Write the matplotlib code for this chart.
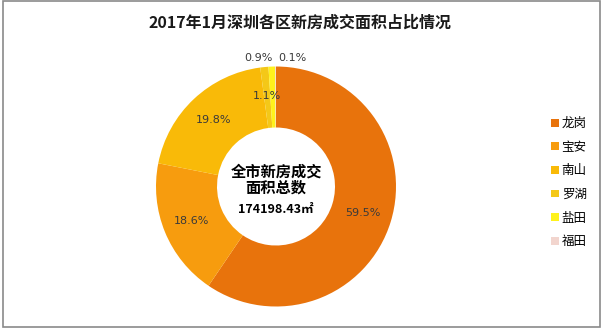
import matplotlib
matplotlib.use("Agg")
import matplotlib.pyplot as plt
import numpy as np

plt.rcParams['font.family'] = ['Noto Sans CJK SC', 'DejaVu Sans']

categories = ['龙岗', '宝安', '南山', '罗湖', '盐田', '福田']
shares = [59.5, 18.6, 19.8, 1.1, 0.9, 0.1]
colors = ['#E8730C', '#F79C0E', '#F9BA08', '#F4C818', '#FFF21C', '#F2D5CE']
title = '2017年1月深圳各区新房成交面积占比情况'
center_lines = ['全市新房成交', '面积总数']
total_text = '174198.43㎡'

W, H = 604, 331
fig = plt.figure(figsize=(W / 100, H / 100), dpi=100)
ax = fig.add_axes([0, 0, 1, 1])

cx, cy, R = 276, H - 186.5, 120
wedges, texts, autotexts = ax.pie(
    shares, colors=colors, startangle=90, counterclock=False,
    center=(cx, cy), radius=R, frame=True,
    wedgeprops=dict(width=61, edgecolor='none'),
    autopct=lambda p: f'{p:.1f}%', pctdistance=0.76,
    textprops=dict(fontsize=8, color='#3a3a3a', family=['DejaVu Sans']))
ax.set_xlim(0, W)
ax.set_ylim(0, H)
ax.set_aspect('equal')
ax.axis('off')

# small slices: labels above the ring
autotexts[4].set_position((cx - 18, cy + R + 8.5))
autotexts[5].set_position((cx + 16, cy + R + 8.5))

ax.text(cx, cy + 15, center_lines[0], ha='center', va='center', fontsize=11,
        fontweight='bold', color='black')
ax.text(cx, cy - 1.5, center_lines[1], ha='center', va='center', fontsize=11,
        fontweight='bold', color='black')
ax.text(cx, cy - 23, total_text, ha='center', va='center', fontsize=9,
        fontweight='bold', color='black')

fig.text(0.497, 1 - 23 / H, title, ha='center', va='center', fontsize=11.5,
         fontweight='bold', color='#1a1a1a')

leg = ax.legend(wedges, categories, loc='upper left',
                bbox_to_anchor=(546 / W, 1 - 112 / H),
                bbox_transform=fig.transFigure, frameon=False,
                fontsize=9, handlelength=0.6, handleheight=0.6,
                handletextpad=0.25, labelspacing=0.85, borderaxespad=0)

fig.patches.append(plt.Rectangle((3 / W, 4 / H), 597 / W, 326 / H,
                                 transform=fig.transFigure, fill=False,
                                 edgecolor='#8a8a8a', lw=1.2))
fig.savefig('out.png', dpi=100, facecolor='white')
